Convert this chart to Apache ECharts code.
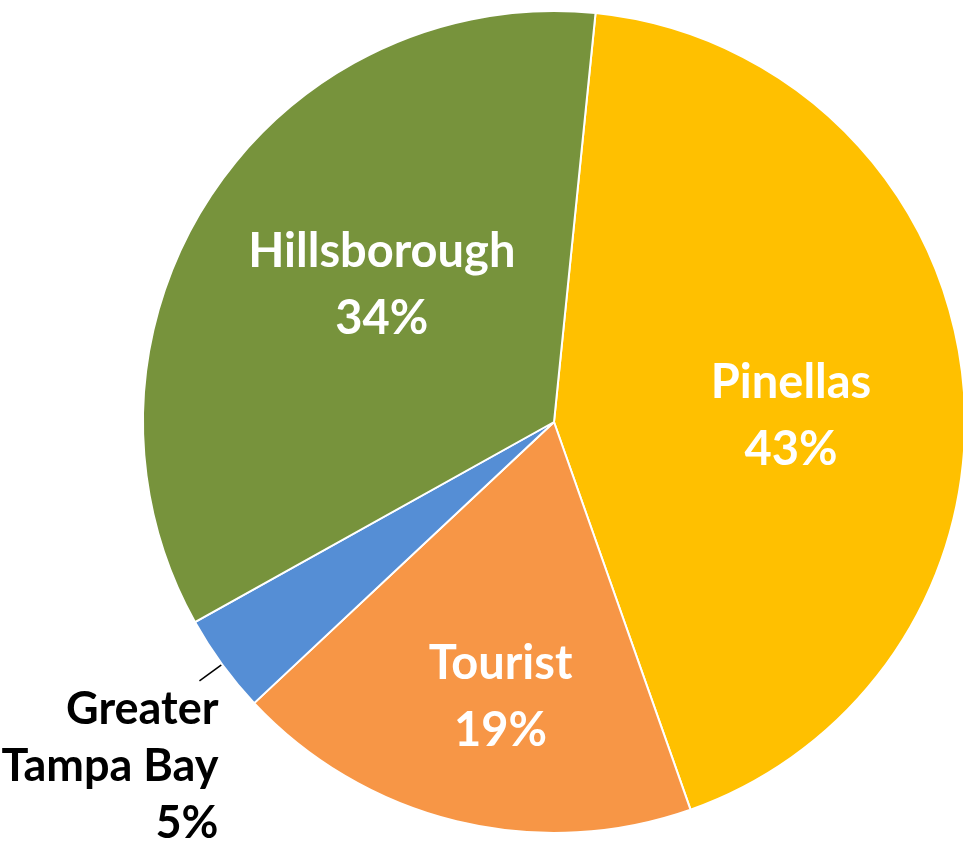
<!DOCTYPE html>
<html>
<head>
<meta charset="utf-8">
<script src="https://cdn.jsdelivr.net/npm/echarts@6/dist/echarts.min.js"></script>
<style>html,body{margin:0;padding:0;background:#fff;}#chart{width:963px;height:843px;}</style>
</head>
<body>
<div id="chart"></div>
<script>
const categories = ['Pinellas', 'Tourist', 'Greater\nTampa Bay', 'Hillsborough'];
const values = [43, 18.4, 3.9, 34.7];
const pctLabels = ['43%', '19%', '5%', '34%'];
const colors = ['#FFC000', '#F79646', '#558ED5', '#77933C'];

// label nudges (layout only)
const labelShift = [[30, 19], [-4, 73], [24, 86], [2, -22]];

const chart = echarts.init(document.getElementById('chart'), null, {renderer: 'canvas'});
const FONT = 'Lato, "Open Sans", sans-serif';
chart.setOption({
  animation: false,
  series: [{
    type: 'pie',
    center: [554, 422],
    radius: [0, 411],
    startAngle: 84.2,
    clockwise: true,
    avoidLabelOverlap: false,
    itemStyle: {borderColor: '#ffffff', borderWidth: 2},
    label: {
      show: true,
      position: 'inside',
      color: '#ffffff',
      fontFamily: FONT,
      fontWeight: 'bold',
      fontSize: 47,
      lineHeight: 67,
      formatter: p => p.name + '\n' + pctLabels[p.dataIndex]
    },
    labelLayout: function (params) {
      const s = labelShift[params.dataIndex];
      return {dx: s[0], dy: s[1]};
    },
    data: categories.map((c, i) => {
      const item = {name: c, value: values[i], itemStyle: {color: colors[i]}};
      if (i === 2) {
        item.label = {
          position: 'outside',
          color: '#000000',
          align: 'right',
          fontSize: 45,
          lineHeight: 57
        };
        item.labelLine = {show: true, length: 28, length2: 0, lineStyle: {color: '#000000', width: 1.5}};
      }
      return item;
    })
  }]
});
</script>
</body>
</html>
